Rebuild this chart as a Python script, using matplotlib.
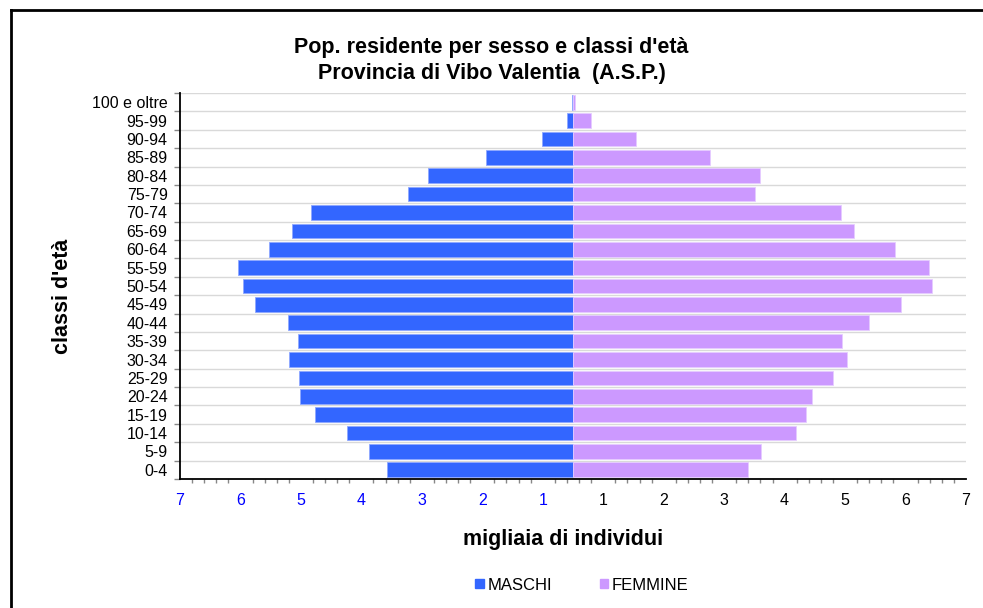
import numpy as np
import matplotlib
matplotlib.use("Agg")
import matplotlib.pyplot as plt
from matplotlib.lines import Line2D
from matplotlib.patches import Patch

plt.rcParams['font.family'] = ['Liberation Sans', 'DejaVu Sans']

# classi d'età (dal basso verso l'alto)
classi = ["0-4", "5-9", "10-14", "15-19", "20-24", "25-29", "30-34", "35-39",
          "40-44", "45-49", "50-54", "55-59", "60-64", "65-69", "70-74",
          "75-79", "80-84", "85-89", "90-94", "95-99", "100 e oltre"]

# lunghezza delle barre (unità dell'asse, migliaia)
maschi = [3.07, 3.38, 3.74, 4.26, 4.52, 4.53, 4.69, 4.55, 4.72, 5.26, 5.46,
          5.54, 5.03, 4.64, 4.33, 2.73, 2.40, 1.44, 0.51, 0.10, 0.01]
femmine = [2.89, 3.11, 3.69, 3.85, 3.95, 4.30, 4.54, 4.45, 4.90, 5.42, 5.93,
           5.89, 5.33, 4.65, 4.44, 3.01, 3.10, 2.27, 1.04, 0.30, 0.04]

# etichette asse x: sinistra (maschi) e destra (femmine)
etichette_sx = ["7", "6", "5", "4", "3", "2", "1"]
etichette_dx = ["1", "2", "3", "4", "5", "6", "7"]

col_m = "#3366FF"
col_f = "#CC99FF"

W, H = 983, 608
fig = plt.figure(figsize=(W / 100, H / 100), dpi=100)
ax = fig.add_axes([180 / W, 1 - 479 / H, (966 - 180) / W, (479 - 93) / H])

y = np.arange(len(classi))
ax.barh(y, -np.array(maschi), height=0.8, color=col_m, edgecolor="#8FA8FF",
        linewidth=0.6, zorder=3)
ax.barh(y, femmine, height=0.8, color=col_f, edgecolor="#E6CCFF",
        linewidth=0.6, zorder=3)

ax.set_xlim(-6.5, 6.5)
ax.set_ylim(-0.5, len(classi) - 0.5)

# griglia orizzontale ai confini delle classi
for b in np.arange(-0.5, len(classi), 1.0):
    ax.axhline(b, color="#D9D9D9", lw=1.0, zorder=1)

# asse y
ax.set_yticks(y, classi, fontsize=11.5)
ax.set_yticks(np.arange(-0.5, len(classi), 1.0), minor=True)
ax.tick_params(axis="y", which="major", length=0, pad=9)
ax.tick_params(axis="y", which="minor", length=4, color="#888888", width=1)

# asse x
pos = [-6.5 + i for i in range(7)] + [0.5 + i for i in range(7)]
ax.set_xticks(pos, etichette_sx + etichette_dx, fontsize=11.5)
for lab in ax.get_xticklabels()[:7]:
    lab.set_color("#0000FF")
ax.set_xticks(np.arange(-6.5, 6.51, 0.2), minor=True)
ax.tick_params(axis="x", which="major", length=0, pad=10)
ax.tick_params(axis="x", which="minor", length=3, color="#888888", width=1)

for s in ["top", "right"]:
    ax.spines[s].set_visible(False)
ax.spines["left"].set_linewidth(1.3)
ax.spines["bottom"].set_linewidth(1.3)

# titoli
fig.text(0.5, 1 - 47 / H, "Pop. residente per sesso e classi d'età",
         ha="center", va="center", fontsize=15.5, fontweight="bold")
fig.text(0.5, 1 - 74 / H, "Provincia di Vibo Valentia  (A.S.P.)",
         ha="center", va="center", fontsize=15.5, fontweight="bold")
fig.text(63 / W, 1 - 296 / H, "classi d'età", rotation=90, ha="center",
         va="center", fontsize=15.5, fontweight="bold")
fig.text(563 / W, 1 - 540 / H, "migliaia di individui", ha="center",
         va="center", fontsize=15.5, fontweight="bold")

# legenda
handles = [Patch(color=col_m), Patch(color=col_f)]
fig.legend(handles, ["MASCHI", "FEMMINE"], loc="center",
           bbox_to_anchor=(582 / W, 1 - 585 / H), ncol=2, frameon=False,
           fontsize=12, handlelength=0.5, handleheight=0.5,
           handletextpad=0.2, columnspacing=2.9)

# cornice
fig.add_artist(Line2D([11 / W, 1.0], [1 - 10 / H, 1 - 10 / H],
                      transform=fig.transFigure, color="black", lw=2))
fig.add_artist(Line2D([11 / W, 11 / W], [0, 1 - 10 / H],
                      transform=fig.transFigure, color="black", lw=2))

fig.savefig("out.png", dpi=100)
